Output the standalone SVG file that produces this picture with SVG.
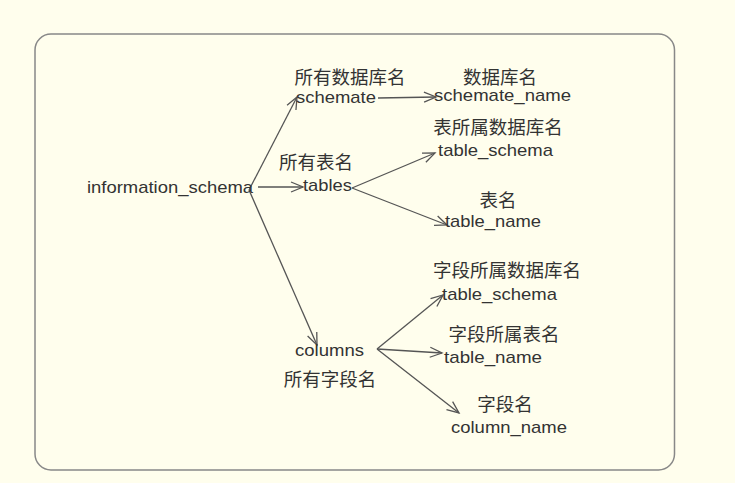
<svg xmlns="http://www.w3.org/2000/svg" width="735" height="483" viewBox="0 0 735 483">
<defs>
<style>
.lat{font-family:"Liberation Sans",Arial,sans-serif;font-size:17px;fill:#333;}
.cjk{font-family:"Liberation Sans","Noto Sans CJK SC",sans-serif;font-size:18.5px;fill:#333;text-anchor:middle;}
.edge{stroke:#555;stroke-width:1.3;fill:none;marker-end:url(#arr);}
</style>
<marker id="arr" markerUnits="userSpaceOnUse" markerWidth="16" markerHeight="14" refX="13" refY="6" orient="auto">
<path d="M1,1 L13,6 L1,11" fill="none" stroke="#555" stroke-width="1.3"/>
</marker>
</defs>
<rect x="0" y="0" width="735" height="483" fill="#fffeed"/>
<rect x="35" y="34" width="639.5" height="436" rx="16" ry="16" fill="#fffeed" stroke="#888" stroke-width="1.5"/>
<g id="connectors">
<line class="edge" x1="249" y1="190" x2="297" y2="97"/>
<line class="edge" x1="258" y1="187" x2="303" y2="187"/>
<line class="edge" x1="249" y1="190" x2="317" y2="345"/>
<line class="edge" x1="378" y1="98" x2="436" y2="97"/>
<line class="edge" x1="352" y1="188" x2="435" y2="153"/>
<line class="edge" x1="352" y1="188" x2="447" y2="225"/>
<line class="edge" x1="377" y1="349" x2="443" y2="295"/>
<line class="edge" x1="377" y1="349" x2="442" y2="353"/>
<line class="edge" x1="377" y1="349" x2="459" y2="413"/>
</g>
<g id="information_schema"><text class="lat" x="87" y="193" textLength="166" lengthAdjust="spacingAndGlyphs">information_schema</text></g>
<g id="schemate">
<text class="cjk" x="350" y="84">所有数据库名</text>
<text class="lat" x="296" y="103" textLength="80" lengthAdjust="spacingAndGlyphs">schemate</text>
</g>
<g id="tables">
<text class="cjk" x="316" y="169">所有表名</text>
<text class="lat" x="303" y="191" textLength="49" lengthAdjust="spacingAndGlyphs">tables</text>
</g>
<g id="columns">
<text class="lat" x="295" y="356" textLength="69" lengthAdjust="spacingAndGlyphs">columns</text>
<text class="cjk" x="330" y="386">所有字段名</text>
</g>
<g id="schemate_name">
<text class="cjk" x="500" y="84">数据库名</text>
<text class="lat" x="434" y="101" textLength="137" lengthAdjust="spacingAndGlyphs">schemate_name</text>
</g>
<g id="tables_table_schema">
<text class="cjk" x="498" y="134">表所属数据库名</text>
<text class="lat" x="438" y="156" textLength="115" lengthAdjust="spacingAndGlyphs">table_schema</text>
</g>
<g id="tables_table_name">
<text class="cjk" x="498" y="207">表名</text>
<text class="lat" x="445" y="227" textLength="96" lengthAdjust="spacingAndGlyphs">table_name</text>
</g>
<g id="columns_table_schema">
<text class="cjk" x="507" y="277">字段所属数据库名</text>
<text class="lat" x="442" y="300" textLength="115" lengthAdjust="spacingAndGlyphs">table_schema</text>
</g>
<g id="columns_table_name">
<text class="cjk" x="504" y="341">字段所属表名</text>
<text class="lat" x="444" y="363" textLength="98" lengthAdjust="spacingAndGlyphs">table_name</text>
</g>
<g id="column_name">
<text class="cjk" x="505" y="411">字段名</text>
<text class="lat" x="451" y="433" textLength="116" lengthAdjust="spacingAndGlyphs">column_name</text>
</g>
</svg>
